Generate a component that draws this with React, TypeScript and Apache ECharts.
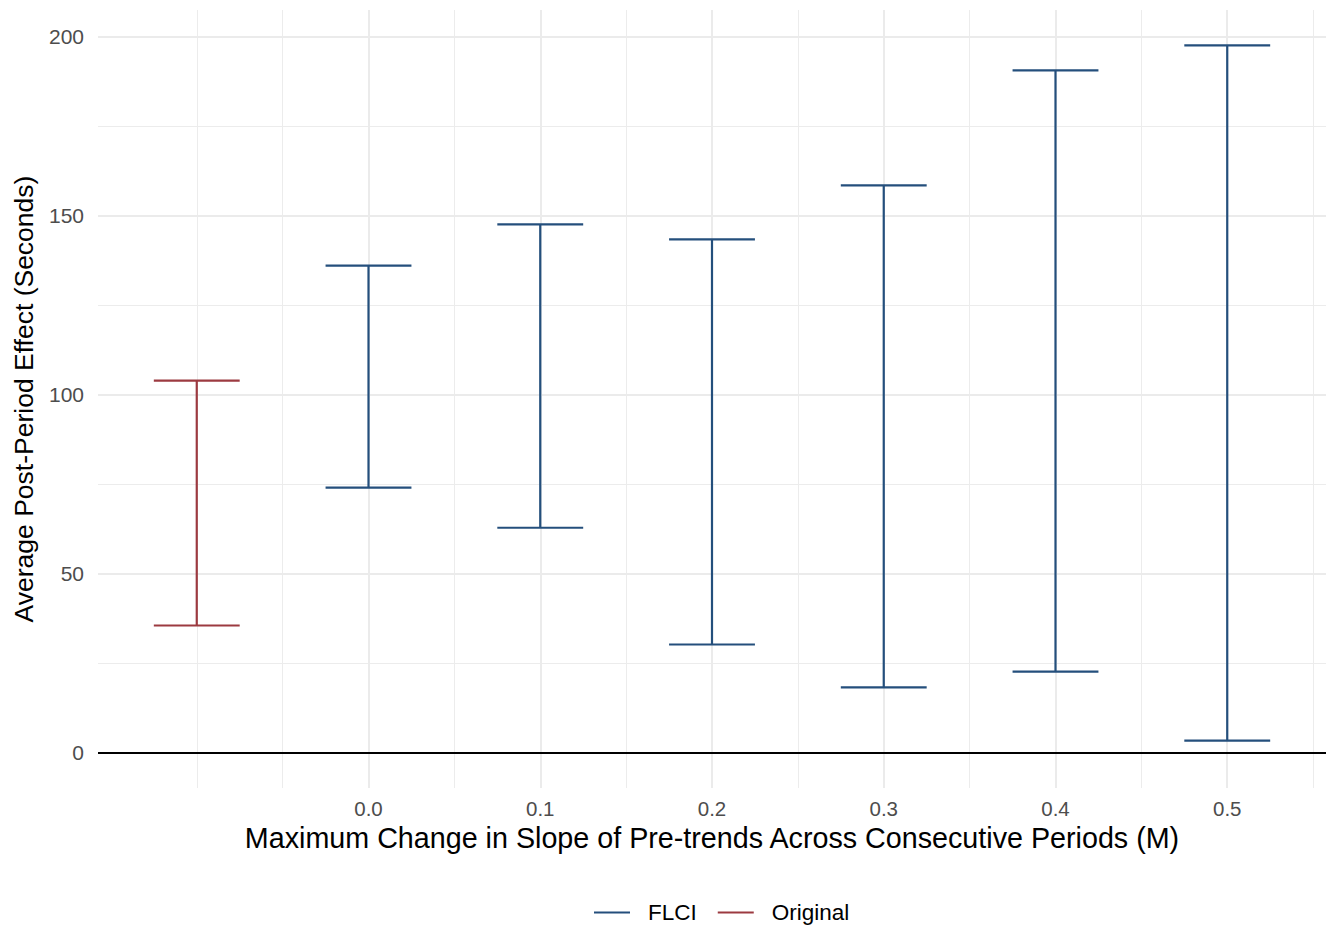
import React, { useEffect, useRef } from "react";
import * as echarts from "echarts";

// ---- data ----
const flciM = [0.0, 0.1, 0.2, 0.3, 0.4, 0.5];
const flciLower = [74.0, 62.8, 30.2, 18.2, 22.6, 3.35];
const flciUpper = [136.0, 147.5, 143.3, 158.4, 190.5, 197.5];
const originalM = [-0.1];
const originalLower = [35.5];
const originalUpper = [103.9];

const xMajorBreaks = [0.0, 0.1, 0.2, 0.3, 0.4, 0.5];
const xMinorBreaks = [-0.1, -0.05, 0.05, 0.15, 0.25, 0.35, 0.45, 0.55];
const yMajorBreaks = [0, 50, 100, 150, 200];
const yMinorBreaks = [25, 75, 125, 175];

const capWidth = 0.05;
const FLCI_COLOR = "#244f7c";
const ORIG_COLOR = "#9c3a40";
const FONT = "'Liberation Sans', Arial, Helvetica, sans-serif";

const xMin = -0.1575;
const xMax = 0.5575;
const yMin = -9.875;
const yMax = 207.375;

function errorBarRender(params: any, api: any) {
  const x = api.value(0);
  const lo = api.value(1);
  const hi = api.value(2);
  const top = api.coord([x, hi]);
  const bot = api.coord([x, lo]);
  const l = api.coord([x - capWidth / 2, hi])[0];
  const r = api.coord([x + capWidth / 2, hi])[0];
  const style = { stroke: api.visual("color"), lineWidth: 2.2 };
  return {
    type: "group",
    children: [
      { type: "line", shape: { x1: top[0], y1: top[1], x2: bot[0], y2: bot[1] }, style },
      { type: "line", shape: { x1: l, y1: top[1], x2: r, y2: top[1] }, style },
      { type: "line", shape: { x1: l, y1: bot[1], x2: r, y2: bot[1] }, style },
    ],
  };
}

export default function App() {
  const ref = useRef<HTMLDivElement>(null);
  useEffect(() => {
    if (!ref.current) return;
    const chart = echarts.init(ref.current, null, { renderer: "svg" });
    const gridLine = (axis: "xAxis" | "yAxis", v: number, width: number, color: string) => ({
      [axis]: v,
      lineStyle: { color, width, type: "solid" },
    });
    chart.setOption({
      animation: false,
      backgroundColor: "#ffffff",
      grid: { left: 98, right: 0, top: 10, bottom: 137, containLabel: false },
      xAxis: {
        type: "value",
        min: xMin,
        max: xMax,
        axisLine: { show: false },
        axisTick: { show: false },
        splitLine: { show: false },
        axisLabel: {
          customValues: xMajorBreaks,
          formatter: (v: number) => v.toFixed(1),
          color: "#4d4d4d",
          fontSize: 20.5,
          fontFamily: FONT,
          margin: 10,
        },
        name: "Maximum Change in Slope of Pre-trends Across Consecutive Periods (M)",
        nameLocation: "middle",
        nameGap: 48,
        nameTextStyle: { color: "#000", fontSize: 28.7, fontFamily: FONT, verticalAlign: "middle" },
      },
      yAxis: {
        type: "value",
        min: yMin,
        max: yMax,
        axisLine: { show: false },
        axisTick: { show: false },
        splitLine: { show: false },
        axisLabel: {
          customValues: yMajorBreaks,
          color: "#4d4d4d",
          fontSize: 21,
          fontFamily: FONT,
          margin: 14,
        },
        name: "Average Post-Period Effect (Seconds)",
        nameLocation: "middle",
        nameGap: 74,
        nameRotate: 90,
        nameTextStyle: { color: "#000", fontSize: 26.5, fontFamily: FONT, verticalAlign: "middle" },
      },
      legend: {
        data: [
          { name: "FLCI", icon: "rect" },
          { name: "Original", icon: "rect" },
        ],
        left: 594,
        top: 901,
        padding: 0,
        itemWidth: 36,
        itemHeight: 2,
        itemGap: 21,
        textStyle: { color: "#000", fontSize: 22.5, fontFamily: FONT, padding: [0, 0, 0, 13] },
      },
      series: [
        {
          type: "line",
          data: [],
          silent: true,
          z: 1,
          markLine: {
            z: 1,
            silent: true,
            symbol: "none",
            label: { show: false },
            animation: false,
            data: [
              ...xMinorBreaks.map((v) => gridLine("xAxis", v, 1, "#ececec")),
              ...yMinorBreaks.map((v) => gridLine("yAxis", v, 1, "#ececec")),
              ...xMajorBreaks.map((v) => gridLine("xAxis", v, 2, "#ebebeb")),
              ...yMajorBreaks.map((v) => gridLine("yAxis", v, 2, "#ebebeb")),
            ],
          },
        },
        {
          type: "line",
          data: [],
          silent: true,
          z: 2,
          markLine: {
            z: 2,
            silent: true,
            symbol: "none",
            label: { show: false },
            animation: false,
            data: [{ yAxis: 0, lineStyle: { color: "#000", width: 2.2, type: "solid" } }],
          },
        },
        {
          name: "FLCI",
          type: "custom",
          z: 10,
          itemStyle: { color: FLCI_COLOR },
          renderItem: errorBarRender,
          encode: { x: 0, y: [1, 2] },
          data: flciM.map((m, i) => [m, flciLower[i], flciUpper[i]]),
        },
        {
          name: "Original",
          type: "custom",
          z: 10,
          itemStyle: { color: ORIG_COLOR },
          renderItem: errorBarRender,
          encode: { x: 0, y: [1, 2] },
          data: originalM.map((m, i) => [m, originalLower[i], originalUpper[i]]),
        },
      ],
    });
    return () => chart.dispose();
  }, []);
  return (
    <div
      ref={ref}
      style={{ position: "fixed", left: 0, top: 0, width: 1326, height: 925 }}
    />
  );
}
